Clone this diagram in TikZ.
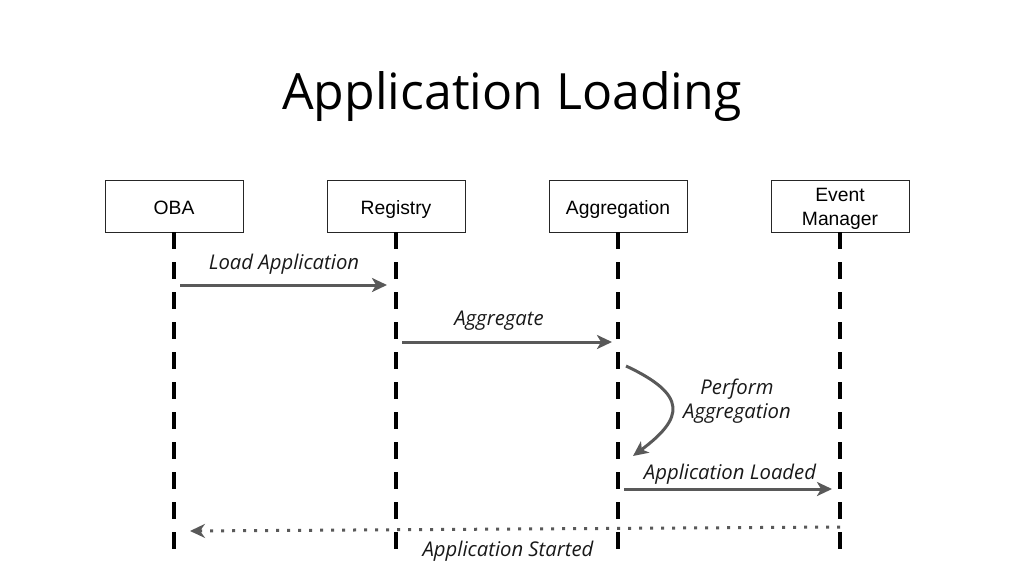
\documentclass[tikz,border=0pt]{standalone}
\usepackage{fontspec}
\setmainfont{Open Sans}
\newfontfamily\boxfont{Liberation Sans}
\usetikzlibrary{arrows.meta}
\definecolor{arrowgray}{HTML}{595959}
\begin{document}
\begin{tikzpicture}[x=1pt,y=-1pt,
  actor/.style={draw=black!85,line width=0.9pt,fill=white,minimum width=138pt,minimum height=52pt,inner sep=0pt,font=\boxfont\fontsize{19.3}{24}\selectfont,align=center},
  single/.style={text height=17pt,text depth=1pt},
  lifeline/.style={line width=4pt,dash pattern=on 17pt off 13pt},
  msg/.style={draw=arrowgray,line width=3pt,-{Stealth[length=15pt,width=14pt,inset=4pt]}},
  ret/.style={draw=arrowgray,line width=3pt,dash pattern=on 3pt off 8pt,-{Stealth[length=15pt,width=14pt,inset=5pt]}},
  lbl/.style={font=\itshape\fontsize{20.3}{24}\selectfont,text=black!90,align=center,inner sep=0pt}]
\useasboundingbox (0,0) rectangle (1024,576);
\node[font=\fontsize{50}{60}\selectfont] (title) at (512,97) {Application Loading};

\node[actor,single] (oba) at (174,206) {OBA};
\node[actor,single] (reg) at (396,206) {Registry};
\node[actor,single] (agg) at (618,206) {Aggregation};
\node[actor] (evm) at (840,206) {\raisebox{-3pt}[\height][\depth]{\begin{tabular}{@{}c@{}}Event\\Manager\end{tabular}}};

\coordinate (obaend) at (174,549);
\coordinate (regend) at (396,549);
\coordinate (aggend) at (618,549);
\coordinate (evmend) at (840,549);
\draw[lifeline] (oba.south) -- (obaend);
\draw[lifeline] (reg.south) -- (regend);
\draw[lifeline] (agg.south) -- (aggend);
\draw[lifeline] (evm.south) -- (evmend);

\coordinate (m1s) at (180,285); \coordinate (m1e) at (387,285);
\coordinate (m2s) at (402,342); \coordinate (m2e) at (612,342);
\coordinate (m3s) at (626,366); \coordinate (m3e) at (633,456);
\coordinate (m4s) at (624,489); \coordinate (m4e) at (832,489);
\coordinate (m5s) at (840,527); \coordinate (m5e) at (190,531);

\draw[msg] (m1s) -- (m1e);
\draw[msg] (m2s) -- (m2e);
\draw[msg] (m3s) .. controls (688,395) and (684,418) .. (m3e);
\draw[msg] (m4s) -- (m4e);
\draw[ret] (m5s) -- (m5e);

\node[lbl] (l1) at (284,264) {Load Application};
\node[lbl] (l2) at (499,321) {Aggregate};
\node[lbl] (l3) at (737,401) {Perform\\Aggregation};
\node[lbl] (l4) at (730,474) {Application Loaded};
\node[lbl] (l5) at (508,551) {Application Started};
\end{tikzpicture}
\end{document}
